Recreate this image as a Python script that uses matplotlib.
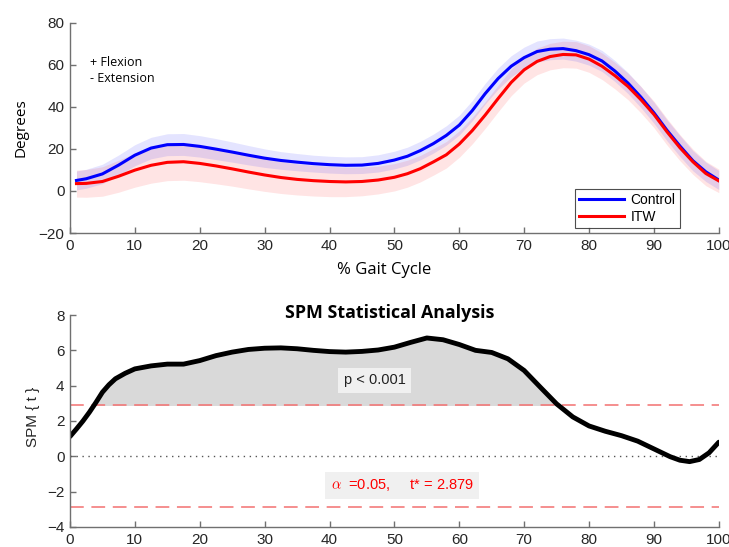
import matplotlib
matplotlib.use("Agg")
import matplotlib.pyplot as plt
import numpy as np

# ---------------- data ----------------
gait_x = [1, 2.5, 5, 7.5, 10, 12.5, 15, 17.5, 20, 22.5, 25, 27.5, 30, 32.5, 35, 37.5,
          40, 42.5, 45, 47.5, 50, 52, 54, 56, 58, 60, 62, 64, 66, 68, 70, 72, 74, 76,
          78, 80, 82, 84, 86, 88, 90, 92, 94, 96, 98, 100]
control_mean = [5.0, 5.8, 8.1, 12.3, 17.0, 20.4, 22.0, 22.1, 21.2, 19.9, 18.5, 17.0,
                15.6, 14.5, 13.7, 13.0, 12.5, 12.2, 12.3, 13.1, 14.7, 16.5, 19.2, 22.5,
                26.4, 31.3, 38.2, 46.3, 53.5, 59.3, 63.4, 66.3, 67.4, 67.7, 66.7, 64.8,
                61.8, 57.0, 51.3, 44.6, 37.2, 28.9, 21.4, 14.4, 9.1, 5.2]
itw_mean = [3.5, 3.6, 4.5, 7.0, 9.9, 12.2, 13.6, 13.9, 13.1, 11.9, 10.5, 9.0, 7.6, 6.4,
            5.5, 4.9, 4.5, 4.3, 4.5, 5.2, 6.5, 8.2, 10.6, 13.8, 17.2, 22.3, 28.7, 36.1,
            44.0, 51.6, 57.6, 61.6, 63.9, 64.9, 64.7, 62.7, 59.3, 54.8, 49.7, 43.4,
            36.4, 28.2, 20.6, 13.9, 8.3, 4.8]
control_sd = [4.5, 4.5, 4.6, 4.8, 5.0, 5.1, 5.2, 5.2, 5.1, 5.0, 4.8, 4.6, 4.4, 4.2,
              4.1, 4.0, 4.0, 4.0, 4.0, 4.1, 4.2, 4.3, 4.4, 4.5, 4.6, 4.7, 4.8, 4.9,
              5.0, 5.0, 5.0, 5.0, 5.0, 5.0, 5.0, 5.0, 5.0, 5.0, 5.0, 5.0, 5.0, 5.0,
              5.0, 4.8, 4.6, 4.5]
itw_sd = [6.4, 6.6, 7.0, 7.6, 8.1, 8.5, 8.7, 8.8, 8.7, 8.5, 8.2, 8.0, 7.8, 7.6, 7.4,
          7.3, 7.2, 7.0, 6.8, 6.6, 6.5, 6.4, 6.3, 6.3, 6.3, 6.3, 6.3, 6.3, 6.3, 6.3,
          6.3, 6.3, 6.3, 6.3, 6.3, 6.3, 6.3, 6.3, 6.3, 6.3, 6.3, 6.3, 6.2, 6.0, 5.8,
          5.6]

spm_x = [0, 1, 2, 3, 4, 5, 6, 7, 8.5, 10, 12.5, 15, 17.5, 20, 22.5, 25, 27.5, 30,
         32.5, 35, 37.5, 40, 42.5, 45, 47.5, 50, 52.5, 55, 57.5, 60, 62.5, 65, 67.5,
         70, 72.5, 75, 77.5, 80, 82.5, 85, 87.5, 90, 92.5, 94, 95.5, 97, 98.5, 100]
spm_t = [1.12, 1.55, 2.0, 2.5, 3.05, 3.63, 4.05, 4.39, 4.7, 4.95, 5.12, 5.22, 5.22,
         5.42, 5.7, 5.9, 6.05, 6.12, 6.14, 6.09, 6.0, 5.93, 5.9, 5.94, 6.02, 6.18,
         6.45, 6.7, 6.6, 6.33, 6.0, 5.88, 5.52, 4.86, 3.91, 2.97, 2.23, 1.72, 1.42,
         1.17, 0.86, 0.42, -0.02, -0.22, -0.3, -0.18, 0.2, 0.8]
t_crit = 2.879

# ---------------- figure ----------------
plt.rcParams['font.family'] = ['Liberation Sans', 'DejaVu Sans']
plt.rcParams['mathtext.fontset'] = 'cm'
fig = plt.figure(figsize=(7.29, 5.47), dpi=100)
axc = '#262626'
spc = '#707070'

def style(ax):
    for s in ('top', 'right'):
        ax.spines[s].set_visible(False)
    for s in ('left', 'bottom'):
        ax.spines[s].set_color(spc)
        ax.spines[s].set_linewidth(1.0)
    ax.tick_params(direction='in', length=4, width=1.0, color=spc, labelcolor=axc,
                   labelsize=11, pad=4)

# ---- top panel ----
ax1 = fig.add_axes([0.096, 0.574, 0.890, 0.3845])
gx = np.array(gait_x)
cm = np.array(control_mean)
im = np.array(itw_mean)
csd = np.array(control_sd)
isd = np.array(itw_sd)
ax1.fill_between(gx, im - isd, im + isd, color='#ff3030', alpha=0.13, linewidth=0)
ax1.fill_between(gx, cm - csd, cm + csd, color='#3030ff', alpha=0.13, linewidth=0)
ax1.plot(gx, cm, color='#0000ff', lw=2.2, label='Control', solid_joinstyle='round')
ax1.plot(gx, im, color='#ff0000', lw=2.2, label='ITW', solid_joinstyle='round')
ax1.set_xlim(0, 100)
ax1.set_ylim(-20, 80)
ax1.set_xticks(range(0, 101, 10))
ax1.set_yticks(range(-20, 81, 20))
style(ax1)
leg = ax1.legend(loc='lower right', bbox_to_anchor=(0.94, 0.024), fontsize=10,
                 frameon=True, fancybox=False, handlelength=3.2, borderpad=0.3,
                 labelspacing=0.2, handletextpad=0.5, borderaxespad=0)
leg.get_frame().set_edgecolor('#222222')
leg.get_frame().set_linewidth(0.8)
ax1.text(0.031, 0.775, '+ Flexion\n- Extension', transform=ax1.transAxes, fontsize=9,
         family='Open Sans', va='center', ha='left', linespacing=1.3)
fig.text(0.029, 0.766, 'Degrees', rotation=90, fontsize=11, family='Open Sans',
         ha='center', va='center')
fig.text(0.527, 0.506, '% Gait Cycle', fontsize=12, family='Open Sans',
         ha='center', va='center')

# ---- bottom panel ----
ax2 = fig.add_axes([0.096, 0.0366, 0.890, 0.3875])
sx = np.array(spm_x)
st = np.array(spm_t)
ax2.fill_between(sx, t_crit, st, where=st >= t_crit, interpolate=True,
                 color='#d9d9d9', linewidth=0)
ax2.axhline(t_crit, color='#f27070', lw=1.1, dashes=(9, 5))
ax2.axhline(-t_crit, color='#f27070', lw=1.1, dashes=(9, 5))
ax2.axhline(0, color='#555555', lw=1.0, dashes=(1, 3.3))
ax2.plot(sx, st, color='black', lw=3.5, solid_capstyle='round', solid_joinstyle='round')
ax2.set_xlim(0, 100)
ax2.set_ylim(-4, 8)
ax2.set_xticks(range(0, 101, 10))
ax2.set_yticks(range(-4, 9, 2))
style(ax2)
ax2.set_ylabel('SPM { t }', fontsize=11, color=axc)
ax2.yaxis.set_label_coords(-0.046, 0.52)
fig.text(0.534, 0.4278, 'SPM Statistical Analysis', fontsize=12.8, fontweight='bold',
         family='Open Sans', ha='center', va='center')
ax2.text(47.0, 4.3, 'p < 0.001', fontsize=10.5, color='#222222', ha='center', va='center',
         bbox=dict(facecolor='#f0f0f0', edgecolor='none', pad=4))
ax2.text(51.2, -1.64, r'$\alpha$  =0.05,     t* = 2.879', fontsize=10.5, color='#ff0000',
         ha='center', va='center',
         bbox=dict(facecolor='#f0f0f0', edgecolor='none', pad=4))

fig.savefig('out.png', dpi=100)
